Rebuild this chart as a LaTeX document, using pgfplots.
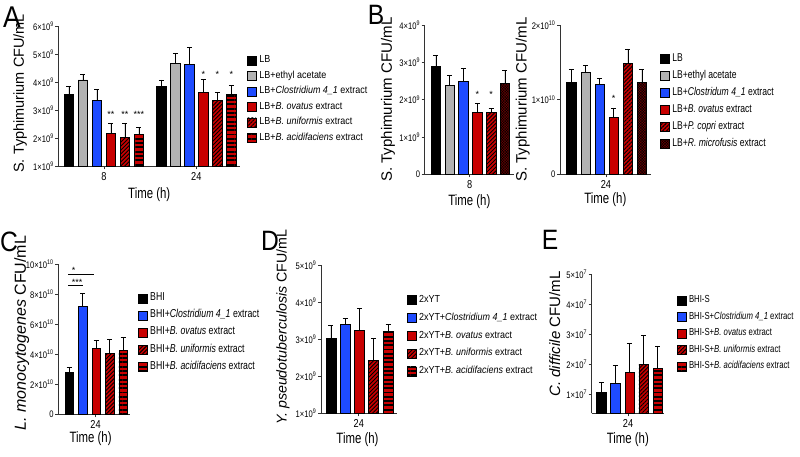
\documentclass[border=0pt]{standalone}
\usepackage{fontspec}
\setmainfont{Liberation Sans}
\newfontfamily\nA{Liberation Sans}[FakeStretch=0.88]
\newfontfamily\nB{Liberation Sans}[FakeStretch=0.76]
\newfontfamily\nT{Liberation Sans}[FakeStretch=0.8]
\usepackage{pgfplots}
\pgfplotsset{compat=1.18}
\usetikzlibrary{patterns.meta}

\definecolor{pblue}{RGB}{30,75,255}
\definecolor{pgray}{RGB}{178,178,178}
\definecolor{pred}{RGB}{200,0,0}
\definecolor{pdark}{RGB}{115,0,0}

\tikzset{sig/.style={font=\fontsize{9}{9}\selectfont, anchor=center, yshift=-2pt}}

\pgfplotsset{
  sq/.style={legend image code/.code={\draw[##1, line width=0.6pt] (0pt,-4.5pt) rectangle (9pt,4.5pt);}},
  hatchR/.style={fill=pred, postaction={pattern={Lines[angle=45,distance=2.8pt,line width=0.9pt]}}},
  stripeR/.style={fill=pred, postaction={pattern={Lines[angle=0,distance=4.3pt,line width=1.9pt]}}},
  crossD/.style={fill=pdark, postaction={pattern={Hatch[angle=45,distance=1.9pt,line width=0.45pt]}}},
  prism/.style={
    scale only axis,
    axis x line=bottom, axis y line=left,
    axis line style={-, line width=0.6pt, black!80},
    tick style={line width=0.6pt, black!80},
    tick align=outside, major tick length=3pt,
    every axis plot/.append style={ybar, bar shift=0pt, sq, draw=black, line width=0.6pt},
    error bars/y dir=plus, error bars/y explicit,
    error bars/error bar style={line width=0.7pt, black},
    error bars/error mark options={line width=0.7pt, mark size=2.5pt, black, rotate=90},
    yticklabel style={font=\fontsize{9.5}{10}\nT, inner sep=1.5pt},
    xticklabel style={font=\fontsize{11.5}{12}\nT},
    xlabel={Time (h)},
    xlabel style={font=\fontsize{15}{16}\nB, anchor=center},
    ylabel style={font=\fontsize{15}{16}\selectfont, anchor=center},
    legend cell align=left,
    legend style={draw=none, fill=none, anchor=north west, inner sep=0pt,
      nodes={inner sep=0pt, text height=7pt, text depth=2.5pt},
      /tikz/every odd column/.append style={column sep=2.5pt}},
  },
}

\begin{document}
\begin{tikzpicture}
\path[use as bounding box] (0pt,0pt) rectangle (800pt,457pt);

% ---------- A ----------
\begin{axis}[prism, at={(58.5pt,290.7pt)}, width=181.5pt, height=140.3pt,
  xmin=0.257, xmax=13.22, ymin=1, ymax=6, bar width=0.68,
  xtick={3.5,10.1}, xticklabels={8,24},
  ytick={1,2,3,4,5,6},
  yticklabels={1×10\textsuperscript{9},2×10\textsuperscript{9},3×10\textsuperscript{9},4×10\textsuperscript{9},5×10\textsuperscript{9},6×10\textsuperscript{9}},
  ylabel={S. Typhimurium CFU/mL},
  ylabel style={at={(axis description cs:-0.212,0.52)}, font=\fontsize{14.5}{15}\selectfont},
  xlabel style={at={(axis description cs:0.5,-0.205)}},
  legend style={at={(1.039,0.791)}, font=\fontsize{10.2}{11}\nA, row sep=5.9pt},
]
\addplot[fill=black] coordinates {(1,3.57) +- (0,0.27) (7.6,3.86) +- (0,0.22)};
\addplot[fill=pgray] coordinates {(2,4.08) +- (0,0.18) (8.6,4.66) +- (0,0.37)};
\addplot[fill=pblue] coordinates {(3,3.36) +- (0,0.38) (9.6,4.63) +- (0,0.61)};
\addplot[fill=pred] coordinates {(4,2.18) +- (0,0.34) (10.6,3.64) +- (0,0.46)};
\addplot[hatchR] coordinates {(5,2.03) +- (0,0.49) (11.6,3.34) +- (0,0.28)};
\addplot[stripeR] coordinates {(6,2.15) +- (0,0.24) (12.6,3.55) +- (0,0.34)};
\legend{LB, LB+ethyl acetate, LB+\textit{Clostridium 4\_1} extract, LB+\textit{B. ovatus} extract, LB+\textit{B. uniformis} extract, LB+\textit{B. acidifaciens} extract}
\node[sig] at (axis cs:4,2.91) {**};
\node[sig] at (axis cs:5,2.91) {**};
\node[sig] at (axis cs:6,2.91) {***};
\node[sig] at (axis cs:10.6,4.35) {*};
\node[sig] at (axis cs:11.6,4.35) {*};
\node[sig] at (axis cs:12.6,4.35) {*};
\end{axis}

% ---------- B left ----------
\begin{axis}[prism, at={(424.7pt,282.7pt)}, width=89.3pt, height=149.3pt,
  xmin=0.19, xmax=6.66, ymin=0, ymax=4, bar width=0.69,
  xtick={3.45}, xticklabels={8},
  ytick={0,1,2,3,4},
  yticklabels={0,1×10\textsuperscript{9},2×10\textsuperscript{9},3×10\textsuperscript{9},4×10\textsuperscript{9}},
  ylabel={S. Typhimurium CFU/mL},
  ylabel style={at={(axis description cs:-0.41,0.5)}},
  xlabel style={at={(axis description cs:0.5,-0.184)}},
]
\addplot[fill=black] coordinates {(1,2.90) +- (0,0.29)};
\addplot[fill=pgray] coordinates {(2,2.39) +- (0,0.25)};
\addplot[fill=pblue] coordinates {(3,2.50) +- (0,0.34)};
\addplot[fill=pred] coordinates {(4,1.65) +- (0,0.25)};
\addplot[hatchR] coordinates {(5,1.65) +- (0,0.12)};
\addplot[crossD] coordinates {(6,2.44) +- (0,0.34)};
\node[sig] at (axis cs:4,2.19) {*};
\node[sig] at (axis cs:5,2.19) {*};
\end{axis}

% ---------- B right ----------
\begin{axis}[prism, at={(560pt,282.7pt)}, width=90.7pt, height=149.3pt,
  xmin=0.19, xmax=6.62, ymin=0, ymax=2, bar width=0.66,
  xtick={3.45}, xticklabels={24},
  ytick={0,1,2},
  yticklabels={0,1×10\textsuperscript{10},2×10\textsuperscript{10}},
  ylabel={S. Typhimurium CFU/mL},
  ylabel style={at={(axis description cs:-0.41,0.5)}},
  xlabel style={at={(axis description cs:0.5,-0.172)}},
  legend style={at={(1.103,0.804)}, font=\fontsize{11.3}{12}\nB, row sep=7.3pt},
]
\addplot[fill=black] coordinates {(1,1.23) +- (0,0.18)};
\addplot[fill=pgray] coordinates {(2,1.37) +- (0,0.09)};
\addplot[fill=pblue] coordinates {(3,1.21) +- (0,0.07)};
\addplot[fill=pred] coordinates {(4,0.77) +- (0,0.12)};
\addplot[hatchR] coordinates {(5,1.49) +- (0,0.19)};
\addplot[crossD] coordinates {(6,1.23) +- (0,0.17)};
\legend{LB, LB+ethyl acetate, LB+\textit{Clostridum 4\_1} extract, LB+\textit{B. ovatus} extract, LB+\textit{P. copri} extract, LB+\textit{R. microfusis} extract}
\node[sig] at (axis cs:4,1.04) {*};
\end{axis}

% ---------- C ----------
\begin{axis}[prism, at={(58.3pt,42.7pt)}, width=71.7pt, height=150pt,
  xmin=0.19, xmax=5.5, ymin=0, ymax=10, bar width=0.64,
  xtick={2.95}, xticklabels={24},
  ytick={0,2,4,6,8,10},
  yticklabels={0,2×10\textsuperscript{10},4×10\textsuperscript{10},6×10\textsuperscript{10},8×10\textsuperscript{10},10×10\textsuperscript{10}},
  ylabel={\textit{L. monocytogenes} CFU/mL},
  ylabel style={at={(axis description cs:-0.51,0.54)}, font=\fontsize{16}{17}\selectfont},
  xlabel style={at={(axis description cs:0.45,-0.16)}},
  legend style={at={(1.11,0.805)}, font=\fontsize{11.5}{12}\nB, row sep=7.5pt},
]
\addplot[fill=black] coordinates {(1,2.80) +- (0,0.33)};
\addplot[fill=pblue] coordinates {(2,7.17) +- (0,0.90)};
\addplot[fill=pred] coordinates {(3,4.42) +- (0,0.48)};
\addplot[hatchR] coordinates {(4,4.04) +- (0,0.96)};
\addplot[stripeR] coordinates {(5,4.27) +- (0,0.84)};
\legend{BHI, BHI+\textit{Clostridium 4\_1} extract, BHI+\textit{B. ovatus} extract, BHI+\textit{B. uniformis} extract, BHI+\textit{B. acidifaciens} extract}
\draw[line width=0.7pt] (axis cs:0.93,9.35) -- (axis cs:2.86,9.35);
\draw[line width=0.7pt] (axis cs:0.93,8.57) -- (axis cs:2.04,8.57);
\node[sig, anchor=west] at (axis cs:0.93,9.75) {*};
\node[sig, anchor=west] at (axis cs:0.93,8.95) {***};
\end{axis}

% ---------- D ----------
\begin{axis}[prism, at={(321pt,43.7pt)}, width=76pt, height=148.3pt,
  xmin=0.3, xmax=5.63, ymin=1, ymax=5, bar width=0.7,
  xtick={2.95}, xticklabels={24},
  ytick={1,2,3,4,5},
  yticklabels={1×10\textsuperscript{9},2×10\textsuperscript{9},3×10\textsuperscript{9},4×10\textsuperscript{9},5×10\textsuperscript{9}},
  ylabel={\textit{Y. pseudotuberculosis} CFU/mL},
  ylabel style={at={(axis description cs:-0.50,0.58)}, font=\fontsize{14.2}{15}\selectfont},
  xlabel style={at={(axis description cs:0.48,-0.18)}},
  legend style={at={(1.128,0.796)}, font=\fontsize{10.2}{11}\nA, row sep=8.2pt},
]
\addplot[fill=black] coordinates {(1,3.02) +- (0,0.34)};
\addplot[fill=pblue] coordinates {(2,3.39) +- (0,0.16)};
\addplot[fill=pred] coordinates {(3,3.24) +- (0,0.58)};
\addplot[hatchR] coordinates {(4,2.43) +- (0,0.60)};
\addplot[stripeR] coordinates {(5,3.22) +- (0,0.18)};
\legend{2xYT, 2xYT+\textit{Clostridium 4\_1} extract, 2xYT+\textit{B. ovatus} extract, 2xYT+\textit{B. uniformis} extract, 2xYT+\textit{B. acidifaciens} extract}
\end{axis}

% ---------- E ----------
\begin{axis}[prism, at={(591.7pt,43.7pt)}, width=72.3pt, height=139pt,
  xmin=0.32, xmax=5.45, ymin=0.38, ymax=5, bar width=0.66,
  xtick={2.9}, xticklabels={24},
  ytick={1,2,3,4,5},
  yticklabels={1×10\textsuperscript{7},2×10\textsuperscript{7},3×10\textsuperscript{7},4×10\textsuperscript{7},5×10\textsuperscript{7}},
  ylabel={\textit{C. difficile} CFU/mL},
  ylabel style={at={(axis description cs:-0.51,0.57)}},
  xlabel style={at={(axis description cs:0.5,-0.192)}},
  legend style={at={(1.176,0.847)}, font=\fontsize{10.2}{11}\nB, row sep=6.9pt},
]
\addplot[fill=black] coordinates {(1,1.09) +- (0,0.32)};
\addplot[fill=pblue] coordinates {(2,1.39) +- (0,0.57)};
\addplot[fill=pred] coordinates {(3,1.73) +- (0,0.99)};
\addplot[hatchR] coordinates {(4,2.01) +- (0,0.95)};
\addplot[stripeR] coordinates {(5,1.86) +- (0,0.76)};
\legend{BHI-S, BHI-S+\textit{Clostridium 4\_1} extract, BHI-S+\textit{B. ovatus} extract, BHI-S+\textit{B. uniformis} extract, BHI-S+\textit{B. acidifaciens} extract}
\end{axis}

% panel letters
\node[font=\fontsize{30}{30}\nA] at (12pt,440pt) {A};
\node[font=\fontsize{28}{28}\nA] at (376pt,442pt) {B};
\node[font=\fontsize{28}{28}\nA] at (9pt,215pt) {C};
\node[font=\fontsize{28}{28}\nA] at (270pt,216pt) {D};
\node[font=\fontsize{28}{28}\nA] at (550pt,217pt) {E};
\end{tikzpicture}
\end{document}
